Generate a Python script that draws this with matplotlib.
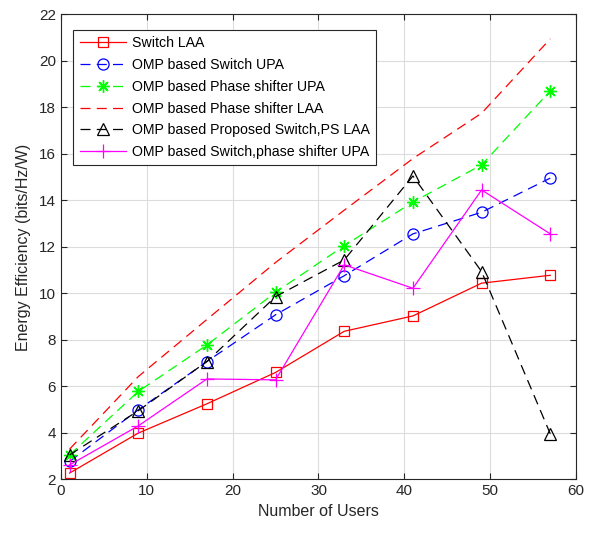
import matplotlib
matplotlib.use('Agg')
import matplotlib.pyplot as plt

plt.rcParams['font.family'] = ['Liberation Sans', 'DejaVu Sans']

# data
users = [1, 9, 17, 25, 33, 41, 49, 57]
switch_laa = [2.27, 3.99, 5.25, 6.6, 8.37, 9.03, 10.44, 10.78]
omp_switch_upa = [2.77, 4.99, 7.07, 9.08, 10.76, 12.56, 13.49, 14.96]
omp_ps_upa = [3.05, 5.78, 7.78, 10.05, 12.05, 13.93, 15.53, 18.71]
omp_ps_laa = [3.3, 6.42, 8.88, 11.33, 13.58, 15.8, 17.75, 20.95]
omp_proposed_laa = [3.05, 4.95, 7.07, 9.86, 11.44, 15.05, 10.94, 3.96]
omp_switch_ps_upa = [2.62, 4.3, 6.32, 6.28, 11.23, 10.22, 14.45, 12.56]

labels = ['Switch LAA', 'OMP based Switch UPA', 'OMP based Phase shifter UPA',
          'OMP based Phase shifter LAA', 'OMP based Proposed Switch,PS LAA',
          'OMP based Switch,phase shifter UPA']

fig = plt.figure(figsize=(5.92, 5.35), dpi=100)
ax = fig.add_axes([0.103, 0.104, 0.870, 0.869])

lw = 0.9
# matlab style asterisk: 8 spokes
asterisk = (8, 2, 0)
ax.plot(users, switch_laa, '-s', color='#ff0000', lw=lw, ms=7, mfc='none', mew=0.9, label=labels[0])
ax.plot(users, omp_switch_upa, '--o', color='#0000ff', lw=lw, ms=8, mfc='none', mew=0.9,
        dashes=(8, 5), label=labels[1])
ax.plot(users, omp_ps_upa, '--', marker=asterisk, color='#00ff00', lw=lw, ms=9, mew=1.0,
        dashes=(8, 5), label=labels[2])
ax.plot(users, omp_ps_laa, '--', color='#ff0000', lw=lw, dashes=(8, 5), label=labels[3])
ax.plot(users, omp_proposed_laa, '--^', color='#000000', lw=lw, ms=8, mfc='none', mew=0.9,
        dashes=(8, 5), label=labels[4])
ax.plot(users, omp_switch_ps_upa, '-+', color='#ff00ff', lw=lw, ms=10, mew=0.9, label=labels[5])

ax.set_xlim(0, 60)
ax.set_ylim(2, 22)
ax.set_xticks(range(0, 61, 10))
ax.set_yticks(range(2, 23, 2))
ax.grid(True, color='#dcdcdc', lw=0.8)
ax.set_axisbelow(True)
ax.tick_params(direction='in', top=True, right=True, labelsize=11, colors='#262626',
               length=4, width=0.8)
for s in ax.spines.values():
    s.set_color('#262626')
    s.set_linewidth(0.8)

ax.set_xlabel('Number of Users', fontsize=11.5, color='#262626')
ax.set_ylabel('Energy Efficiency (bits/Hz/W)', fontsize=11.5, color='#262626', labelpad=6)

leg = ax.legend(loc='upper left', bbox_to_anchor=(0.024, 0.967), borderaxespad=0,
                fontsize=10.2, handlelength=3.3, handletextpad=0.4, labelspacing=0.55,
                fancybox=False, framealpha=1, edgecolor='#262626', borderpad=0.45)
leg.get_frame().set_linewidth(0.8)

fig.savefig('out.png', dpi=100)
